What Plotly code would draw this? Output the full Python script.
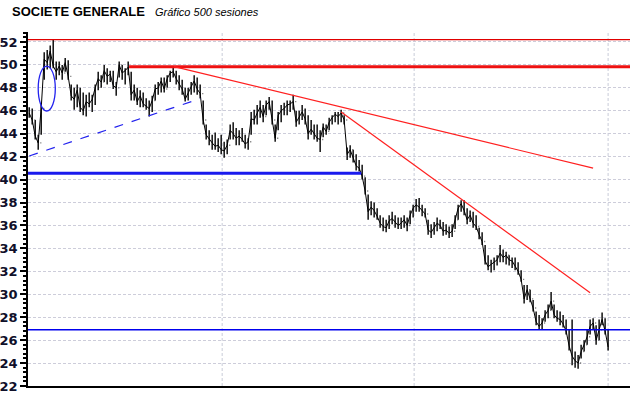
import plotly.graph_objects as go

# ---- price data (one bar per ~2.6 sessions) ----
high = [46.3, 46.2, 45.2, 43.9, 46.5, 51.1, 51.3, 51.7, 52.2, 50.3,
        50.3, 50.0, 50.6, 50.4, 48.3, 48.0, 48.3, 48.0, 47.6, 47.4,
        47.6, 47.4, 48.3, 49.4, 49.1, 50.0, 49.7, 49.5, 49.5, 48.5,
        50.3, 50.0, 49.7, 50.3, 49.4, 48.3, 48.0, 47.8, 47.6, 47.1,
        46.9, 47.3, 48.3, 48.5, 48.9, 48.9, 49.1, 49.5, 49.8, 49.5,
        49.1, 48.7, 48.0, 48.0, 48.5, 49.1, 48.9, 48.3, 46.9, 44.8,
        44.3, 43.9, 44.1, 43.6, 43.9, 43.3, 43.5, 44.8, 45.0, 44.5,
        44.3, 44.5, 43.9, 43.6, 45.9, 46.1, 46.5, 46.9, 46.5, 46.9,
        47.2, 46.9, 44.8, 45.9, 46.5, 46.7, 46.9, 46.9, 47.4, 46.0,
        46.0, 46.5, 46.2, 45.6, 45.2, 44.8, 44.8, 44.3, 44.9, 44.8,
        45.4, 45.6, 45.9, 45.9, 46.1, 45.6, 42.8, 43.0, 42.6, 42.2,
        41.7, 41.3, 40.2, 38.7, 38.1, 38.0, 37.5, 36.9, 36.7, 36.5,
        36.9, 37.2, 36.9, 36.7, 36.7, 36.9, 36.7, 37.3, 37.8, 38.3,
        38.4, 37.8, 37.5, 36.5, 36.1, 36.3, 36.7, 36.5, 36.3, 36.1,
        35.9, 36.1, 36.9, 37.8, 38.2, 38.2, 37.5, 37.3, 37.2, 36.9,
        35.8, 35.4, 34.3, 33.4, 33.0, 33.2, 33.4, 34.3, 33.9, 33.7,
        33.4, 33.2, 33.2, 32.8, 32.1, 30.8, 30.8, 30.4, 29.5, 28.5,
        28.2, 27.9, 28.6, 29.1, 30.2, 29.1, 28.6, 28.5, 28.2, 27.8,
        26.9, 27.8, 25.0, 24.7, 25.6, 26.0, 26.9, 27.8, 27.9, 27.3,
        27.8, 28.4, 27.9, 26.9]

low = [45.4, 44.8, 43.5, 42.6, 43.9, 48.7, 49.6, 49.7, 49.7, 48.7,
       49.1, 48.7, 49.4, 48.7, 46.9, 46.1, 46.3, 45.9, 45.6, 45.5,
       46.3, 45.9, 46.5, 47.8, 48.0, 48.5, 48.3, 48.5, 47.9, 47.3,
       48.9, 48.7, 48.3, 49.1, 46.9, 46.9, 46.5, 46.3, 46.3, 46.1,
       45.5, 45.9, 46.9, 47.4, 47.6, 47.6, 48.0, 48.5, 48.9, 48.3,
       47.8, 47.4, 46.8, 46.9, 47.4, 47.6, 47.4, 47.1, 44.8, 43.5,
       43.0, 42.6, 42.6, 42.4, 42.2, 41.9, 42.2, 43.5, 43.5, 43.0,
       43.0, 43.3, 42.7, 42.6, 43.9, 44.8, 44.8, 45.4, 45.0, 45.6,
       46.1, 44.8, 43.3, 44.3, 45.0, 45.6, 45.6, 45.9, 46.1, 44.6,
       44.8, 45.2, 44.8, 43.5, 43.9, 43.5, 43.3, 42.4, 43.7, 43.9,
       44.3, 44.8, 45.0, 44.8, 45.0, 44.8, 41.7, 41.9, 41.5, 40.8,
       40.7, 40.0, 38.7, 36.5, 36.9, 36.7, 36.5, 35.8, 35.5, 35.4,
       35.7, 36.1, 35.8, 35.7, 35.7, 35.8, 35.5, 36.1, 36.7, 37.2,
       37.2, 36.8, 36.7, 35.2, 34.9, 35.2, 35.5, 35.7, 35.1, 35.2,
       34.9, 35.0, 35.7, 36.5, 37.2, 36.9, 36.1, 36.3, 35.8, 35.6,
       34.8, 34.3, 32.6, 32.1, 31.9, 32.1, 32.5, 32.8, 32.8, 32.6,
       32.5, 32.3, 32.1, 31.7, 31.1, 29.2, 29.5, 29.3, 28.5, 27.3,
       26.9, 26.9, 27.6, 27.9, 28.6, 27.9, 27.6, 27.3, 27.1, 26.5,
       25.1, 23.8, 23.6, 23.5, 24.4, 25.0, 25.6, 26.5, 26.9, 25.6,
       26.0, 27.3, 26.5, 25.1]

close = [45.8, 45.2, 43.8, 43.2, 46.2, 50.5, 50.2, 51.2, 49.9, 49.4,
         49.9, 49.3, 50.2, 49.0, 47.3, 47.0, 47.8, 46.3, 46.0, 46.8,
         46.6, 47.0, 48.0, 48.8, 48.5, 49.5, 49.0, 49.2, 48.2, 48.0,
         50.0, 49.3, 49.5, 49.8, 47.4, 47.8, 46.8, 47.3, 46.6, 46.4,
         46.2, 46.9, 47.9, 48.0, 48.6, 47.9, 48.8, 49.3, 49.4, 48.8,
         48.4, 47.9, 47.0, 47.6, 48.1, 48.6, 47.9, 47.5, 45.2, 43.9,
         43.5, 43.2, 42.9, 43.0, 42.6, 42.5, 43.0, 44.3, 44.0, 43.6,
         43.8, 43.5, 43.1, 43.3, 45.3, 45.2, 45.8, 46.3, 45.5, 46.5,
         46.8, 45.2, 43.6, 45.6, 46.0, 46.2, 46.5, 46.6, 46.8, 45.0,
         45.5, 45.9, 45.3, 44.0, 44.4, 44.0, 43.6, 43.5, 44.6, 44.2,
         45.0, 45.4, 45.7, 45.5, 45.8, 45.2, 42.2, 42.6, 41.8, 41.2,
         41.0, 40.3, 39.0, 37.2, 37.6, 37.3, 36.8, 36.2, 35.9, 35.8,
         36.4, 36.6, 36.3, 36.0, 36.2, 36.5, 36.0, 36.9, 37.5, 37.8,
         37.6, 37.3, 37.0, 35.6, 35.4, 35.8, 36.2, 36.0, 35.5, 35.6,
         35.3, 35.5, 36.5, 37.5, 37.9, 37.3, 36.5, 36.9, 36.2, 35.9,
         35.2, 34.6, 32.9, 32.4, 32.6, 32.8, 33.0, 33.6, 33.2, 33.4,
         33.0, 32.9, 32.5, 32.0, 31.3, 29.6, 30.4, 29.6, 28.8, 27.6,
         27.2, 27.5, 28.2, 28.6, 29.4, 28.2, 27.9, 27.8, 27.4, 26.8,
         25.5, 24.6, 24.2, 24.0, 25.0, 25.6, 26.3, 27.2, 27.5, 26.0,
         26.9, 27.8, 26.8, 25.4]

open_ = [close[0]] + close[:-1]
idx = list(range(len(close)))

# ---- study lines (x in bar index units, y in price) ----
y_ticks = [22, 24, 26, 28, 30, 32, 34, 36, 38, 40, 42, 44, 46, 48, 50, 52]
x_grid = [64.33, 128.33, 193.0]
x_range = [-0.4, 200.3]
y_range = [22, 52.87]

resist_thin = 52.2          # red thin, full width
resist_thick = 49.85        # red thick
resist_thick_x = [33.3, 200.3]
support_thick = 40.55       # blue thick
support_thick_x = [-0.4, 110.7]
support_thin = 26.9         # blue thin, full width
trend1_x = [48.3, 188.0]
trend1_y = [49.85, 41.0]
trend2_x = [104.0, 187.0]
trend2_y = [45.9, 30.14]
dash_x = [0.0, 57.0]
dash_y = [42.06, 47.06]
ellipse_x = [3.0, 8.7]
ellipse_y = [45.98, 49.9]

fig = go.Figure()
# thin close-to-close path so the dense bars read as one continuous trace
fig.add_trace(go.Scatter(x=idx, y=close, mode="lines",
                         line=dict(color="black", width=1), hoverinfo="skip"))
fig.add_trace(go.Ohlc(
    x=idx, open=open_, high=high, low=low, close=close,
    increasing=dict(line=dict(color="black", width=1.4)),
    decreasing=dict(line=dict(color="black", width=1.4)),
    tickwidth=0.2, hoverinfo="skip", showlegend=False))

shapes = []
def line(x0, y0, x1, y1, color, width, dash="solid"):
    shapes.append(dict(type="line", xref="x", yref="y", x0=x0, y0=y0, x1=x1, y1=y1,
                       line=dict(color=color, width=width, dash=dash), layer="above"))

line(x_range[0], resist_thin, x_range[1], resist_thin, "#e00000", 1.3)
line(resist_thick_x[0], resist_thick, resist_thick_x[1], resist_thick, "#ee1111", 3)
line(support_thick_x[0], support_thick, support_thick_x[1], support_thick, "#1a1aee", 3)
line(x_range[0], support_thin, x_range[1], support_thin, "#0000ee", 1.5)
line(trend1_x[0], trend1_y[0], trend1_x[1], trend1_y[1], "#ff2020", 1.2)
line(trend2_x[0], trend2_y[0], trend2_x[1], trend2_y[1], "#ff2020", 1.2)
line(dash_x[0], dash_y[0], dash_x[1], dash_y[1], "#2222ee", 1.2, "dash")
shapes.append(dict(type="circle", xref="x", yref="y", x0=ellipse_x[0], x1=ellipse_x[1],
                   y0=ellipse_y[0], y1=ellipse_y[1], line=dict(color="#2222ee", width=1.3)))
for gx in x_grid:
    shapes.append(dict(type="line", xref="x", yref="paper", x0=gx, x1=gx, y0=0, y1=1,
                       line=dict(color="#c8ccd8", width=1, dash="3px,2px"), layer="below"))

fig.update_layout(
    width=640, height=398,
    margin=dict(l=28, r=10, t=32, b=12, autoexpand=False),
    paper_bgcolor="white", plot_bgcolor="white",
    shapes=shapes,
    showlegend=False,
    hovermode=False,
    xaxis=dict(range=x_range, showgrid=False, zeroline=False, showticklabels=False,
               ticks="", showline=True, linecolor="black", linewidth=2, automargin=False,
               rangeslider=dict(visible=False), fixedrange=True),
    yaxis=dict(range=y_range, tickvals=y_ticks, ticktext=[f"<b>{v}</b>" for v in y_ticks],
               showgrid=True, gridcolor="#cdcdda", griddash="3px,2px", gridwidth=1,
               zeroline=False, showline=True, linecolor="black", linewidth=1.5,
               ticks="outside", ticklen=6, tickwidth=1.5, tickcolor="black",
               minor=dict(dtick=0.4, ticks="outside", ticklen=3, tickcolor="black",
                          showgrid=False),
               tickfont=dict(family="DejaVu Sans", size=13, color="#10102a"),
               ticklabelstandoff=0, automargin=False, fixedrange=True),
    annotations=[
        dict(text="<b>SOCIETE GENERALE</b>", xref="paper", yref="paper",
             x=-0.0299, y=1.0565, xanchor="left", yanchor="middle", showarrow=False,
             font=dict(family="Liberation Sans", size=13, color="black")),
        dict(text="<i>Gráfico 500 sesiones</i>", xref="paper", yref="paper",
             x=0.2076, y=1.0565, xanchor="left", yanchor="middle", showarrow=False,
             font=dict(family="Liberation Sans", size=11, color="black")),
    ],
)

# the page's default 8px body margin would push the 640x398 figure off-window
fig.write_html("out.html",
               config={"displayModeBar": False},
               post_script="document.body.style.margin='0';"
                           "document.body.style.overflow='hidden';")
